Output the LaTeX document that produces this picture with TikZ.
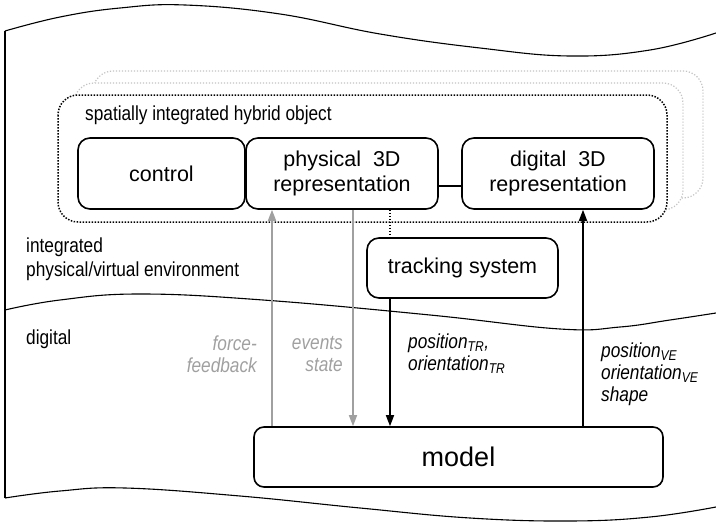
\documentclass[tikz,border=0pt]{standalone}
\usepackage{fontspec}
\setmainfont{Liberation Sans}
\newfontfamily\narrowsans{Liberation Sans}[FakeStretch=0.85]
\usetikzlibrary{arrows.meta,calc}
\definecolor{flowgray}{RGB}{160,160,160}
\definecolor{framegray}{RGB}{195,195,195}

\begin{document}
\begin{tikzpicture}[x=1pt,y=-1pt,
  box/.style={draw, line width=1.6pt, rounded corners=12pt, inner sep=0pt,
    align=center, font=\fontsize{21.5}{24.5}\selectfont},
  lbl/.style={inner sep=0pt, font=\narrowsans\fontsize{20.3}{24}\selectfont},
  ilbl/.style={inner sep=0pt, font=\narrowsans\fontsize{20.3}{22}\selectfont\itshape},
  wave/.style={line width=1.1pt},
  tip/.style={-{Triangle[length=11pt,width=8pt]}},
  flow/.style={tip, line width=1.6pt},
  gflow/.style={tip, line width=1.6pt, draw=flowgray},
  hybrid/.style={draw, rounded corners=20pt, line width=1.5pt,
    dash pattern=on 1.5pt off 1.5pt},
  shadowframe/.style={draw=framegray, fill=white, rounded corners=20pt,
    line width=1.2pt, dash pattern=on 1.2pt off 1.8pt},
]
\useasboundingbox (0,0) rectangle (716,522);

% paper outline: three wavy cuts and the left edge
\draw[wave] plot[smooth, tension=0.7] coordinates
  {(5,31) (60,17) (120,8) (185,5) (280,14) (380,34) (480,48) (570,56) (650,50) (716,33)};
\draw[wave] plot[smooth, tension=0.7] coordinates
  {(5,310) (60,300) (140,294) (263,300) (430,315) (560,329) (620,327) (670,320) (716,313)};
\draw[wave] plot[smooth, tension=0.7] coordinates
  {(5,498) (60,491) (125,488) (240,496) (360,508) (470,518) (570,521) (650,517) (716,507)};
\draw[wave] (5,31) -- (5,498);

% stacked hybrid objects
\draw[shadowframe] (93,71) rectangle (703,198);
\draw[shadowframe] (74,83) rectangle (683,210);
\draw[hybrid, fill=white] (58,95) rectangle (667,222);

\node[lbl, anchor=west] (hyb) at (85,115) {spatially integrated hybrid object};

% components
\node[box, minimum width=167pt, minimum height=71pt] (control) at (161.5,173.5) {control};
\node[box, minimum width=192pt, minimum height=71pt] (physical) at (342,173.5) {physical~ 3D\\representation};
\node[box, minimum width=192pt, minimum height=71pt] (digital) at (558,173.5) {digital~ 3D\\representation};
\node[box, minimum width=191pt, minimum height=60pt] (tracking) at (462.5,268) {tracking system};
\node[box, minimum width=409pt, minimum height=60pt, rounded corners=10pt,
      font=\fontsize{27}{30}\selectfont] (model) at (458.5,457) {model};

% reference x positions of the vertical links
\coordinate (ffx) at (272,0);
\coordinate (evx) at (353,0);
\coordinate (trx) at (390,0);
\coordinate (vex) at (583,0);
\coordinate (lnk) at (0,186);

\draw[line width=1.5pt] (physical.east |- lnk) -- (digital.west |- lnk);
\draw[line width=1.2pt, dash pattern=on 1.2pt off 1.8pt]
  (trx |- physical.south) -- (trx |- tracking.north);

\draw[gflow] (ffx |- model.north) -- (ffx |- physical.south);
\draw[gflow] (evx |- physical.south) -- (evx |- model.north);
\draw[flow] (trx |- tracking.south) -- (trx |- model.north);
\draw[flow] (vex |- model.north) -- (vex |- digital.south);

% region labels
\node[lbl, anchor=west, align=left] (env) at (26,259.5) {integrated\\physical/virtual environment};
\node[lbl, anchor=west] (dig) at (26,339) {digital};

% flow labels
\node[ilbl, anchor=east, align=right, text=flowgray] (fflbl) at (257,354) {force-\\feedback};
\node[ilbl, anchor=east, align=right, text=flowgray] (evlbl) at (343,354) {events\\state};
\node[ilbl, anchor=west, align=left] (trlbl) at (408,354)
  {position\textsubscript{TR},\\orientation\textsubscript{TR}};
\node[ilbl, anchor=west, align=left] (velbl) at (601,374)
  {position\textsubscript{VE}\\orientation\textsubscript{VE}\\shape};
\end{tikzpicture}
\end{document}
